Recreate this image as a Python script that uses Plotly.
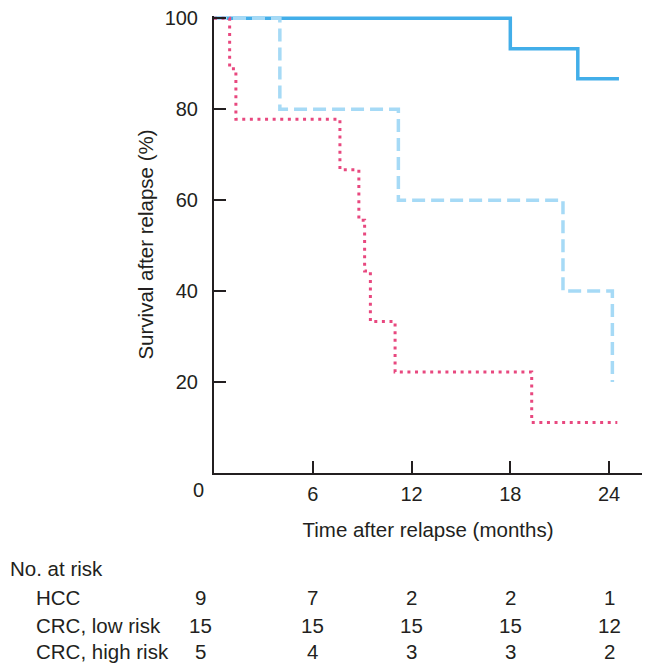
import plotly.graph_objects as go

# ---- data ----
low_t = [0, 18.0, 22.1, 24.6]
low_s = [100, 93.3, 86.7, 86.7]

high_t = [0, 4.0, 11.2, 21.2, 24.2]
high_s = [100, 80, 60, 40, 20]

hcc_t = [0, 0.95, 1.33, 7.65, 8.8, 9.15, 9.5, 11.0, 19.3, 24.5]
hcc_s = [100, 88.9, 77.8, 66.7, 55.6, 44.4, 33.3, 22.2, 11.1, 11.1]

risk_times = [0, 6, 12, 18, 24]
risk_groups = ["HCC", "CRC, low risk", "CRC, high risk"]
risk_counts = {
    "HCC": [9, 7, 2, 2, 1],
    "CRC, low risk": [15, 15, 15, 15, 12],
    "CRC, high risk": [5, 4, 3, 3, 2],
}

x_ticks = [6, 12, 18, 24]
y_ticks = [20, 40, 60, 80, 100]

FONT = "Liberation Sans, Arial, sans-serif"
INK = "#231f20"
FS = 20
FT = 20.5

fig = go.Figure()
fig.add_trace(go.Scatter(x=low_t, y=low_s, mode="lines", line_shape="hv",
                         line=dict(color="#42aee9", width=3.5), name="CRC, low risk",
                         hoverinfo="skip"))
fig.add_trace(go.Scatter(x=high_t, y=high_s, mode="lines", line_shape="hv",
                         line=dict(color="#a6daf6", width=3.5, dash="13px,6px"),
                         name="CRC, high risk", hoverinfo="skip"))
fig.add_trace(go.Scatter(x=hcc_t, y=hcc_s, mode="lines", line_shape="hv",
                         line=dict(color="#e8487f", width=3, dash="3px,4.6px"),
                         name="HCC", hoverinfo="skip"))

ann = []
ann.append(dict(x=0, y=0, xref="x", yref="y", text="0", showarrow=False,
                xshift=-16, yshift=-17, font=dict(size=FS, color=INK, family=FONT)))
ann.append(dict(x=8, y=569, xref="paper", yref="paper", text="No. at risk",
                showarrow=False, xanchor="left", yanchor="middle",
                font=dict(size=FT, color=INK, family=FONT)))

row_y = [598, 626, 652]
for g, yy in zip(risk_groups, row_y):
    ann.append(dict(x=34, y=yy, xref="paper", yref="paper", text=g, showarrow=False,
                    xanchor="left", yanchor="middle",
                    font=dict(size=FT, color=INK, family=FONT)))
    for t, c in zip(risk_times, risk_counts[g]):
        ann.append(dict(x=t, y=yy, xref="x", yref="paper", text=str(c), showarrow=False,
                        xanchor="center", yanchor="middle",
                        xshift=-14 if t == 0 else 0,
                        font=dict(size=FT, color=INK, family=FONT)))

# layout in pixels
W, H = 650, 663
Y_TOP = 100.5
ML, MR, MB = 214, 8, 190
ph = (663 - MB - 18) * Y_TOP / 100.0
MT = H - MB - ph
pw = W - ML - MR
for a in ann:
    if a["xref"] == "paper":
        a["x"] = (a["x"] - ML) / pw
    if a["yref"] == "paper":
        a["y"] = (H - MB - a["y"]) / ph

fig.update_layout(
    width=W, height=H,
    margin=dict(l=ML, r=MR, t=MT, b=MB),
    paper_bgcolor="white", plot_bgcolor="white",
    showlegend=False,
    font=dict(family=FONT, size=FS, color=INK),
    annotations=ann,
    xaxis=dict(range=[0, 26], tickvals=x_ticks, ticktext=[str(v) for v in x_ticks],
               ticks="inside", ticklen=12, tickwidth=2, tickcolor=INK,
               showline=True, linewidth=2, linecolor=INK, showgrid=False,
               zeroline=False, ticklabelstandoff=2,
               tickfont=dict(size=FS, color=INK, family=FONT),
               title=dict(text="Time after relapse (months)", standoff=19,
                          font=dict(size=FT, color=INK, family=FONT))),
    yaxis=dict(range=[0, Y_TOP], tickvals=y_ticks, ticktext=[str(v) for v in y_ticks],
               ticks="inside", ticklen=12, tickwidth=2, tickcolor=INK,
               showline=True, linewidth=2, linecolor=INK, showgrid=False,
               zeroline=False, ticklabelstandoff=10,
               tickfont=dict(size=FS, color=INK, family=FONT),
               title=dict(text="Survival after relapse (%)", standoff=5,
                          font=dict(size=FT, color=INK, family=FONT))),
)

fig.write_html("out.html")
